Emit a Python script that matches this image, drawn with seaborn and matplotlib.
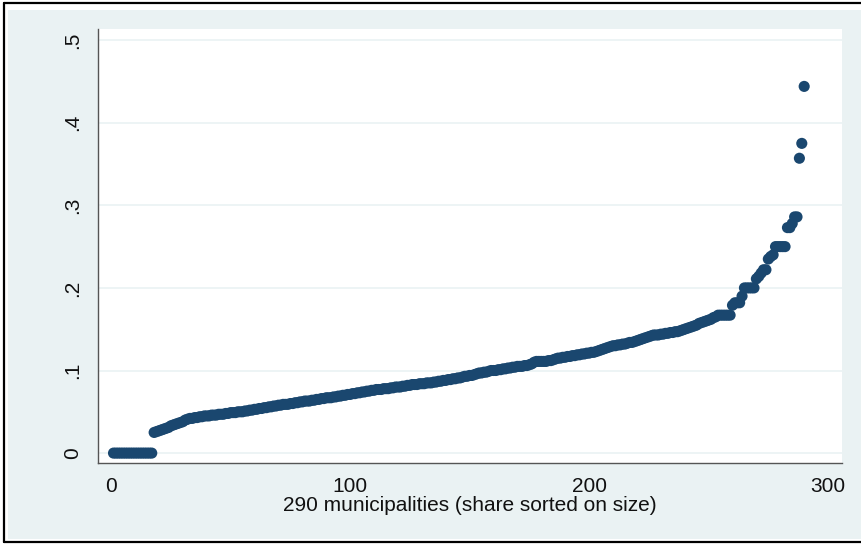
import numpy as np
import pandas as pd
import matplotlib
matplotlib.use("Agg")
import matplotlib.pyplot as plt
from matplotlib.patches import Rectangle
from matplotlib.lines import Line2D
import seaborn as sns

# share per municipality, sorted on size
shares = [
    0, 0, 0, 0, 0, 0, 0, 0, 0, 0,
    0, 0, 0, 0, 0, 0, 0, 0.025, 0.026, 0.027,
    0.028, 0.029, 0.030, 0.031, 0.033, 0.034, 0.035, 0.036, 0.037, 0.038,
    0.040, 0.041, 0.042, 0.042, 0.043, 0.043, 0.044, 0.044, 0.045, 0.045,
    0.045, 0.046, 0.046, 0.046, 0.047, 0.047, 0.047, 0.048, 0.048, 0.049,
    0.049, 0.049, 0.050, 0.050, 0.050, 0.051, 0.051, 0.052, 0.052, 0.053,
    0.053, 0.054, 0.054, 0.055, 0.055, 0.056, 0.056, 0.057, 0.057, 0.058,
    0.058, 0.059, 0.059, 0.059, 0.060, 0.060, 0.061, 0.061, 0.062, 0.062,
    0.063, 0.063, 0.063, 0.064, 0.064, 0.065, 0.065, 0.066, 0.066, 0.067,
    0.067, 0.067, 0.068, 0.068, 0.069, 0.069, 0.070, 0.070, 0.071, 0.071,
    0.072, 0.072, 0.073, 0.073, 0.074, 0.074, 0.075, 0.075, 0.076, 0.076,
    0.077, 0.077, 0.077, 0.078, 0.078, 0.078, 0.079, 0.079, 0.080, 0.080,
    0.080, 0.081, 0.081, 0.082, 0.082, 0.083, 0.083, 0.083, 0.084, 0.084,
    0.084, 0.085, 0.085, 0.085, 0.086, 0.086, 0.087, 0.087, 0.088, 0.088,
    0.089, 0.089, 0.090, 0.090, 0.091, 0.091, 0.092, 0.093, 0.093, 0.094,
    0.094, 0.095, 0.096, 0.097, 0.097, 0.098, 0.098, 0.099, 0.100, 0.100,
    0.100, 0.101, 0.101, 0.102, 0.102, 0.103, 0.103, 0.104, 0.104, 0.105,
    0.105, 0.105, 0.106, 0.106, 0.107, 0.108, 0.110, 0.111, 0.111, 0.111,
    0.111, 0.111, 0.112, 0.112, 0.113, 0.114, 0.115, 0.115, 0.116, 0.116,
    0.117, 0.117, 0.118, 0.118, 0.119, 0.119, 0.120, 0.120, 0.121, 0.121,
    0.122, 0.122, 0.123, 0.124, 0.125, 0.126, 0.127, 0.128, 0.129, 0.130,
    0.130, 0.131, 0.131, 0.132, 0.132, 0.133, 0.134, 0.134, 0.135, 0.136,
    0.137, 0.138, 0.139, 0.140, 0.141, 0.142, 0.143, 0.143, 0.143, 0.144,
    0.144, 0.145, 0.145, 0.146, 0.146, 0.147, 0.147, 0.148, 0.149, 0.150,
    0.151, 0.152, 0.153, 0.154, 0.155, 0.157, 0.158, 0.159, 0.160, 0.161,
    0.162, 0.164, 0.165, 0.167, 0.167, 0.167, 0.167, 0.167, 0.167, 0.179,
    0.182, 0.182, 0.182, 0.190, 0.200, 0.200, 0.200, 0.200, 0.200, 0.211,
    0.214, 0.218, 0.222, 0.222, 0.235, 0.238, 0.240, 0.250, 0.250, 0.250,
    0.250, 0.250, 0.273, 0.273, 0.278, 0.286, 0.286, 0.357, 0.375, 0.444,
]
rank = list(range(1, len(shares) + 1))

x_ticks = [0, 100, 200, 300]
y_ticks = [0, 0.1, 0.2, 0.3, 0.4, 0.5]
y_ticklabels = ["0", ".1", ".2", ".3", ".4", ".5"]
x_label = "290 municipalities (share sorted on size)"

df = pd.DataFrame({"rank": rank, "share": shares})

bg = "#EAF2F3"
navy = "#1a476f"

sns.set_style("white")
plt.rcParams['font.family'] = ['Liberation Sans', 'DejaVu Sans']

fig = plt.figure(figsize=(8.61, 5.44), dpi=100, facecolor="white")

# stata style outer background + black frame (right side cut off)
fig.patches.append(Rectangle((8 / 861, 5 / 544), 1, 529 / 544, transform=fig.transFigure,
                             facecolor=bg, edgecolor="none", zorder=-10))
for xs, ys in [([3.5 / 861, 3.5 / 861], [2.5 / 544, 541.5 / 544]),
               ([3.5 / 861, 1], [541.5 / 544, 541.5 / 544]),
               ([3.5 / 861, 1], [2.5 / 544, 2.5 / 544])]:
    fig.lines.append(Line2D(xs, ys, transform=fig.transFigure, color="black", lw=1.6, zorder=-5))

ax = fig.add_axes([97.5 / 861, 81 / 544, 744.2 / 861, 434 / 544])
ax.set_facecolor("white")

sns.scatterplot(data=df, x="rank", y="share", ax=ax, color=navy, s=64,
                edgecolor="none", linewidth=0, zorder=3)

ax.set_xlim(-5.7, 305.7)
ax.set_ylim(-0.012, 0.5135)
ax.set_xticks(x_ticks)
ax.set_yticks(y_ticks)
ax.set_yticklabels(y_ticklabels, rotation=90, va="center")
ax.grid(axis="y", color=bg, lw=1.2, zorder=1)
ax.set_axisbelow(True)

for side in ["top", "right"]:
    ax.spines[side].set_visible(False)
for side in ["left", "bottom"]:
    ax.spines[side].set_color("#555555")
    ax.spines[side].set_linewidth(1.0)

ax.tick_params(axis="both", direction="out", length=6, width=0.9, color="#555555",
               labelsize=15, labelcolor="#111111", pad=4)
ax.tick_params(axis="y", pad=5)
ax.set_xlabel(x_label, fontsize=15, color="#111111", labelpad=0)
ax.set_ylabel("")

fig.savefig("out.png", dpi=100, facecolor=fig.get_facecolor())
plt.close(fig)
